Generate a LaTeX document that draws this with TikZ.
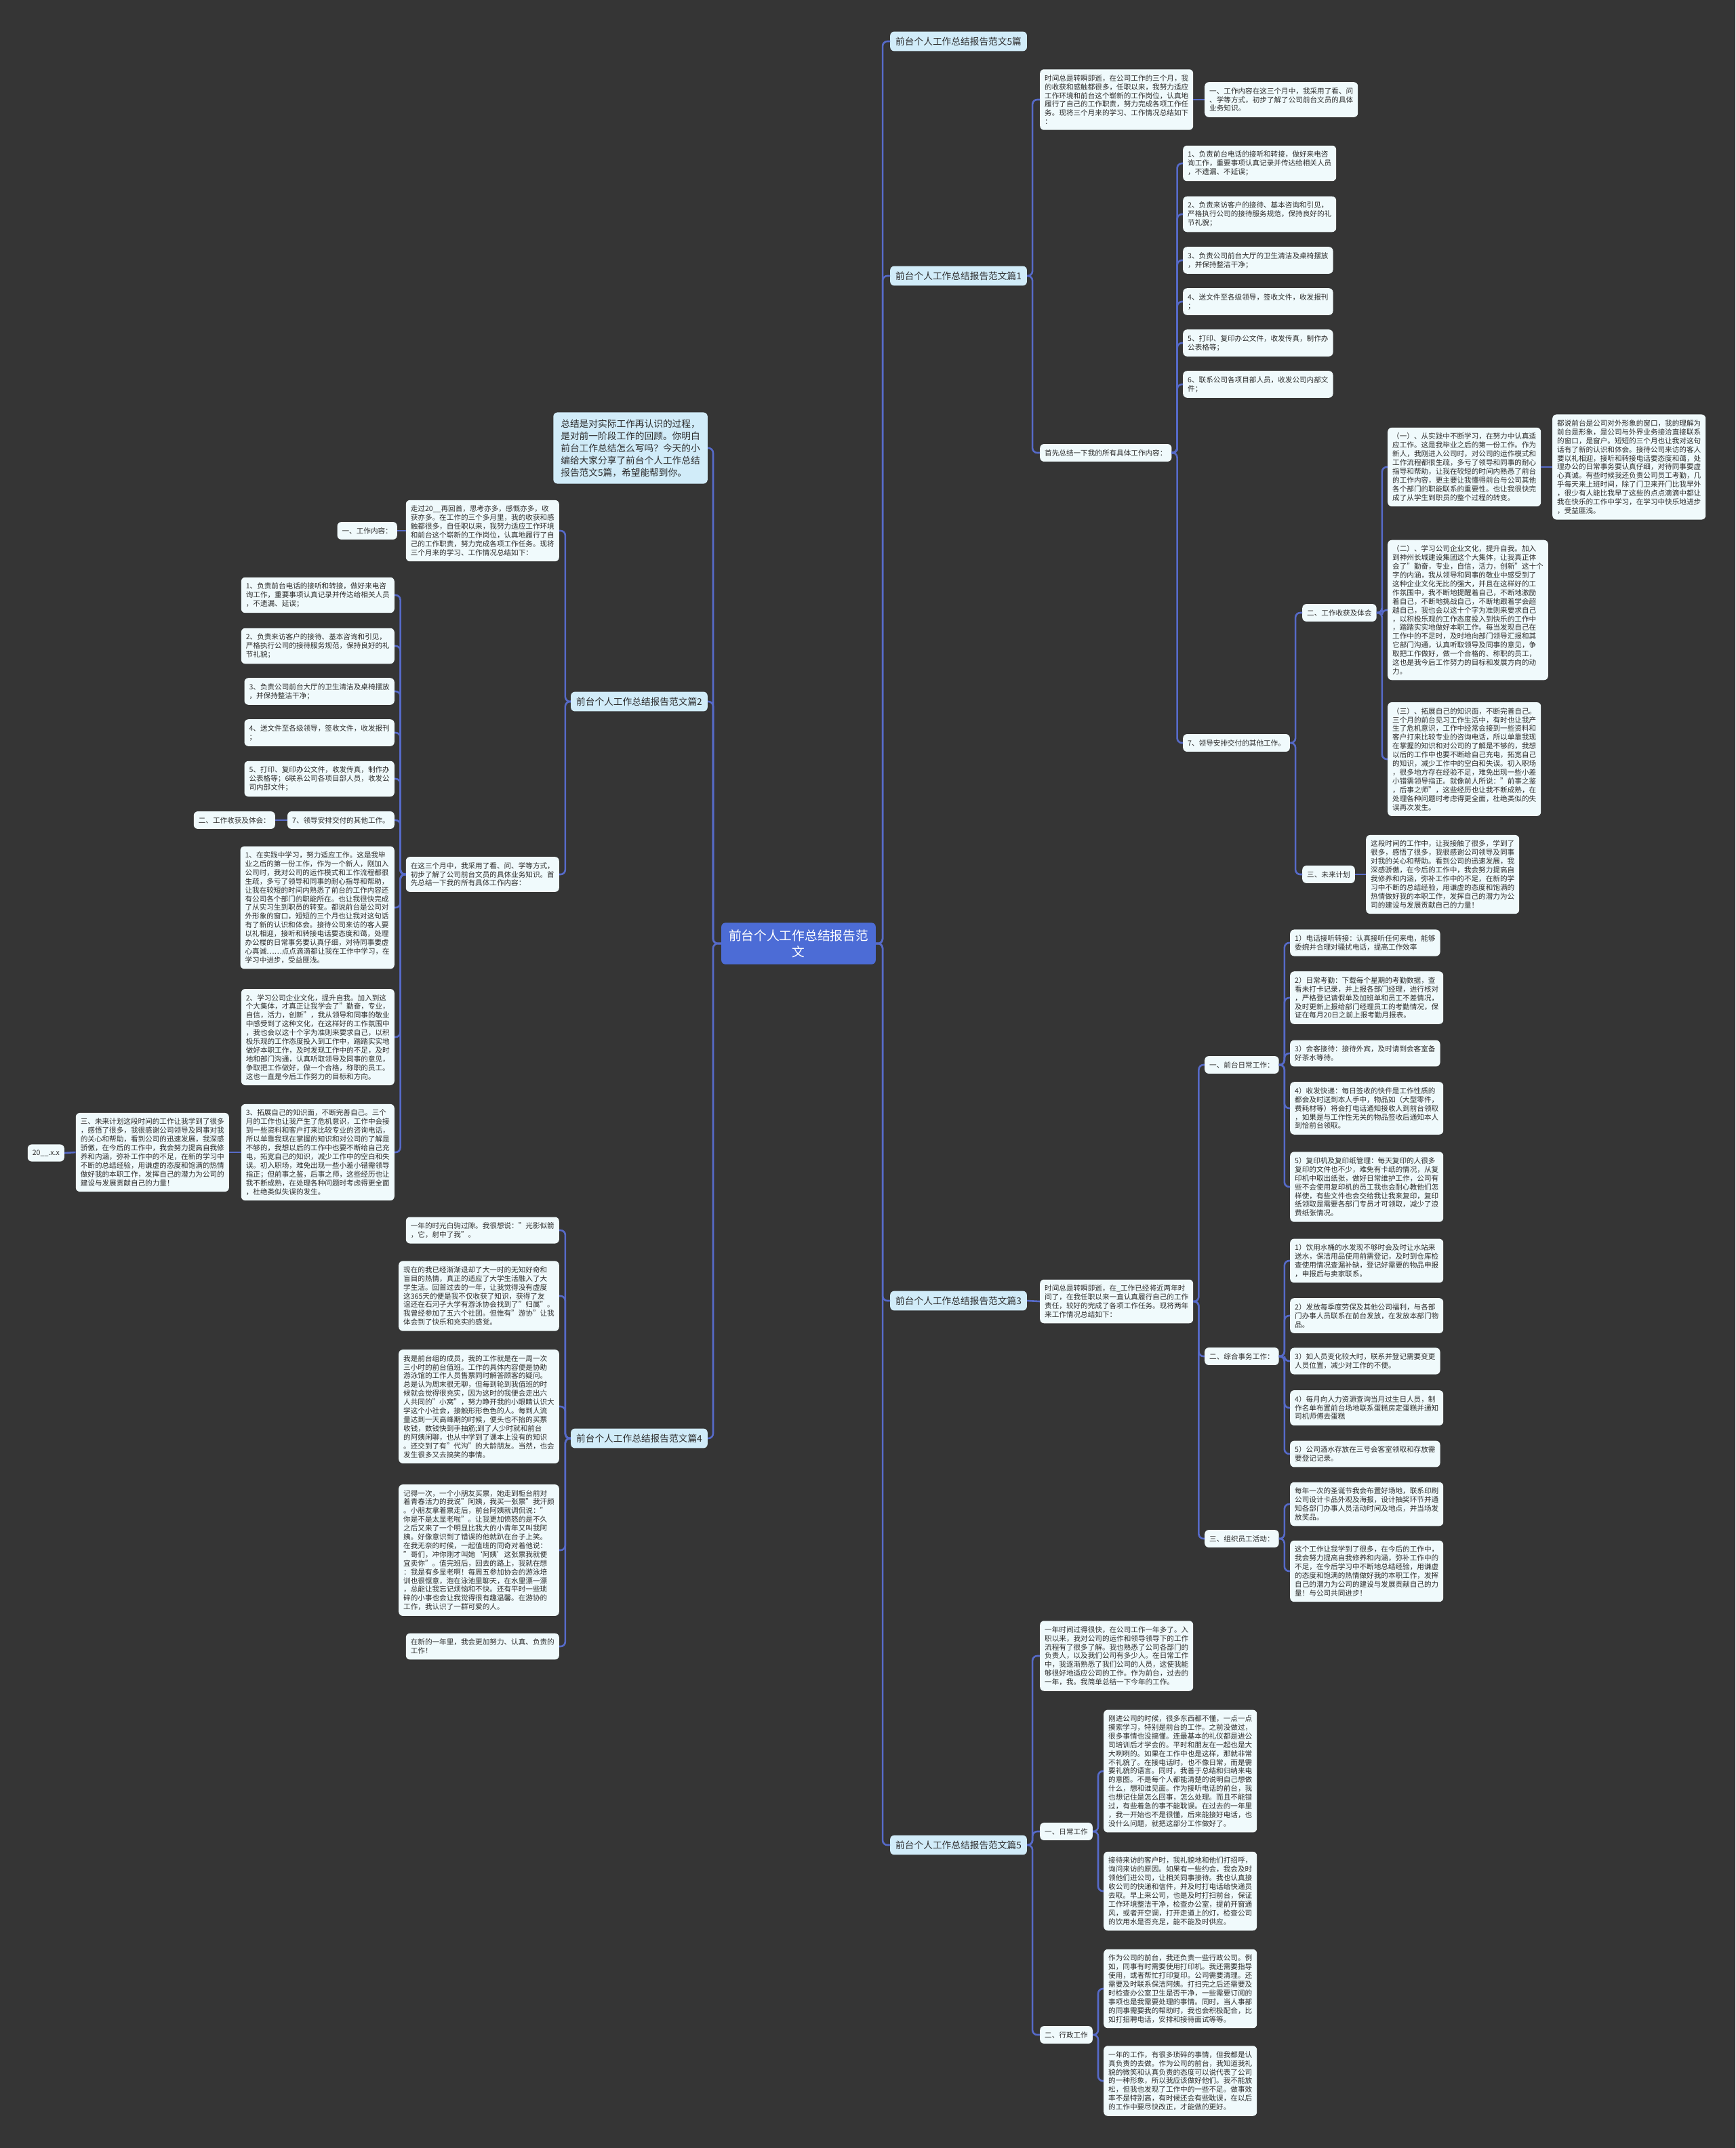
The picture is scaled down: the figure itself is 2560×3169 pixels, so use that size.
\documentclass[tikz,border=0pt]{standalone}
\usepackage{fontspec}
\setmainfont{Noto Sans CJK SC}
\definecolor{bg}{RGB}{53,53,53}
\definecolor{boxfill}{RGB}{240,250,252}
\definecolor{labfill}{RGB}{209,236,249}
\definecolor{cenfill}{RGB}{76,108,214}
\definecolor{linec}{RGB}{86,106,200}
\definecolor{txt}{RGB}{45,45,45}
\newcommand\brR[3]{\foreach \c in {#3} {\draw[conn] (#1.east) -- ++(#2,0) |- (\c.west);}}
\newcommand\brL[3]{\foreach \c in {#3} {\draw[conn] (#1.west) -- ++(-#2,0) |- (\c.east);}}
\tikzset{
 base/.style={rounded corners=6pt, fill=boxfill, text=txt, align=left, inner xsep=7pt, inner ysep=8pt, font=\fontsize{10.6}{12.9}\selectfont},
 boxR/.style={base, anchor=west},
 boxL/.style={base, anchor=east},
 lab/.style={rounded corners=6pt, fill=labfill, text=txt, inner xsep=8pt, inner ysep=8pt, font=\fontsize{13.7}{18}\selectfont},
 labR/.style={lab, anchor=west},
 labL/.style={lab, anchor=east},
 cen/.style={rounded corners=6pt, fill=cenfill, text=white, align=center, inner xsep=11pt, inner ysep=10pt, font=\fontsize{18.7}{24}\selectfont},
 conn/.style={draw=linec, line width=2.6pt, rounded corners=7pt},
}
\begin{document}
\begin{tikzpicture}[x=1pt,y=-1pt]
\useasboundingbox (0,0) rectangle (2560,3169);
\fill[bg] (0,0) rectangle (2560,3169);

% center
\node[cen] (c) at (1178,1392) {前台个人工作总结报告范\\文};

% ---------- right side ----------
\node[labR] (p5) at (1313,61) {前台个人工作总结报告范文5篇};
\node[labR] (p1) at (1313,407) {前台个人工作总结报告范文篇1};
\node[labR] (p3) at (1313,1919) {前台个人工作总结报告范文篇3};
\node[labR] (p5b) at (1313,2722) {前台个人工作总结报告范文篇5};

% 篇1
\node[boxR] (a1) at (1534,147) {时间总是转瞬即逝，在公司工作的三个月，我\\的收获和感触都很多，任职以来，我努力适应\\工作环境和前台这个崭新的工作岗位，认真地\\履行了自己的工作职责，努力完成各项工作任\\务。现将三个月来的学习、工作情况总结如下\\：};
\node[boxR] (a2) at (1777,147) {一、工作内容在这三个月中，我采用了看、问\\、学等方式，初步了解了公司前台文员的具体\\业务知识。};
\node[boxR] (s1) at (1534,668) {首先总结一下我的所有具体工作内容：};
\node[boxR] (r1) at (1745,241) {1、负责前台电话的接听和转接，做好来电咨\\询工作，重要事项认真记录并传达给相关人员\\，不遗漏、不延误；};
\node[boxR] (r2) at (1745,316) {2、负责来访客户的接待、基本咨询和引见，\\严格执行公司的接待服务规范，保持良好的礼\\节礼貌；};
\node[boxR] (r3) at (1745,384) {3、负责公司前台大厅的卫生清洁及桌椅摆放\\，并保持整洁干净；};
\node[boxR] (r4) at (1745,445) {4、送文件至各级领导，签收文件，收发报刊\\；};
\node[boxR] (r5) at (1745,506) {5、打印、复印办公文件，收发传真，制作办\\公表格等；};
\node[boxR] (r6) at (1745,567) {6、联系公司各项目部人员，收发公司内部文\\件；};
\node[boxR] (r7) at (1745,1096) {7、领导安排交付的其他工作。};
\node[boxR] (g2) at (1921,904) {二、工作收获及体会};
\node[boxR] (g3) at (1921,1290) {三、未来计划};
\node[boxR] (k1) at (2047,689) {（一）、从实践中不断学习，在努力中认真适\\应工作。这是我毕业之后的第一份工作。作为\\新人，我刚进入公司时，对公司的运作模式和\\工作流程都很生疏，多亏了领导和同事的耐心\\指导和帮助，让我在较短的时间内熟悉了前台\\的工作内容，更主要让我懂得前台与公司其他\\各个部门的职能联系的重要性。也让我很快完\\成了从学生到职员的整个过程的转变。};
\node[boxR] (k1b) at (2290,689) {都说前台是公司对外形象的窗口，我的理解为\\前台是形象，是公司与外界业务接洽直接联系\\的窗口，是窗户。短短的三个月也让我对这句\\话有了新的认识和体会。接待公司来访的客人\\要以礼相迎，接听和转接电话要态度和蔼，处\\理办公的日常事务要认真仔细，对待同事要虚\\心真诚。有些时候我还负责公司员工考勤，几\\乎每天来上班时间，除了门卫来开门比我早外\\，很少有人能比我早了这些的点点滴滴中都让\\我在快乐的工作中学习，在学习中快乐地进步\\，受益匪浅。};
\node[boxR] (k2) at (2047,900) {（二）、学习公司企业文化，提升自我。加入\\到神州长城建设集团这个大集体，让我真正体\\会了"勤奋，专业，自信，活力，创新"这十个\\字的内涵，我从领导和同事的敬业中感受到了\\这种企业文化无比的强大，并且在这样好的工\\作氛围中，我不断地提醒着自己，不断地激励\\着自己，不断地挑战自己，不断地跟着学会超\\越自己，我也会以这十个字为准则来要求自己\\，以积极乐观的工作态度投入到快乐的工作中\\，踏踏实实地做好本职工作。每当发现自己在\\工作中的不足时，及时地向部门领导汇报和其\\它部门沟通，认真听取领导及同事的意见，争\\取把工作做好，做一个合格的、称职的员工，\\这也是我今后工作努力的目标和发展方向的动\\力。};
\node[boxR] (k3) at (2047,1120) {（三）、拓展自己的知识面，不断完善自己。\\三个月的前台见习工作生活中，有时也让我产\\生了危机意识，工作中经常会接到一些资料和\\客户打来比较专业的咨询电话，所以单靠我现\\在掌握的知识和对公司的了解是不够的，我想\\以后的工作中也要不断给自己充电，拓宽自己\\的知识，减少工作中的空白和失误。初入职场\\，很多地方存在经验不足，难免出现一些小差\\小错需领导指正。就像前人所说："前事之鉴\\，后事之师"，这些经历也让我不断成熟，在\\处理各种问题时考虑得更全面，杜绝类似的失\\误再次发生。};
\node[boxR] (k4) at (2015,1290) {这段时间的工作中，让我接触了很多，学到了\\很多，感悟了很多，我很感谢公司领导及同事\\对我的关心和帮助。看到公司的迅速发展，我\\深感骄傲，在今后的工作中，我会努力提高自\\我修养和内涵，弥补工作中的不足，在新的学\\习中不断的总结经验，用谦虚的态度和饱满的\\热情做好我的本职工作，发挥自己的潜力为公\\司的建设与发展贡献自己的力量！};

% 篇3
\node[boxR] (t0) at (1534,1920) {时间总是转瞬即逝，在\_工作已经将近两年时\\间了，在我任职以来一直认真履行自己的工作\\责任，较好的完成了各项工作任务。现将两年\\来工作情况总结如下：};
\node[boxR] (t1) at (1777,1571) {一、前台日常工作：};
\node[boxR] (t2) at (1777,2001) {二、综合事务工作：};
\node[boxR] (t3) at (1777,2270) {三、组织员工活动：};
\node[boxR] (u1) at (1903,1391) {1）电话接听转接：认真接听任何来电，能够\\委婉并合理对骚扰电话，提高工作效率};
\node[boxR] (u2) at (1903,1472) {2）日常考勤：下载每个星期的考勤数据，查\\看未打卡记录，并上报各部门经理，进行核对\\，严格登记请假单及加班单和员工不差情况，\\及时更新上报给部门经理员工的考勤情况，保\\证在每月20日之前上报考勤月报表。};
\node[boxR] (u3) at (1903,1554) {3）会客接待：接待外宾，及时请到会客室备\\好茶水等待。};
\node[boxR] (u4) at (1903,1635) {4）收发快递：每日签收的快件是工作性质的\\都会及时送到本人手中，物品如（大型零件，\\费耗材等）将会打电话通知接收人到前台领取\\，如果是与工作性无关的物品签收后通知本人\\到恰前台领取。};
\node[boxR] (u5) at (1903,1751) {5）复印机及复印纸管理：每天复印的人很多\\复印的文件也不少，难免有卡纸的情况，从复\\印机中取出纸张，做好日常维护工作，公司有\\些不会使用复印机的员工我也会耐心教他们怎\\样使，有些文件也会交给我让我来复印，复印\\纸领取是需要各部门专员才可领取，减少了浪\\费纸张情况。};
\node[boxR] (v1) at (1903,1860) {1）饮用水桶的水发现不够时会及时让水站来\\送水，保洁用品使用前需登记，及时到仓库检\\查使用情况查漏补缺，登记好需要的物品申报\\，申报后与卖家联系。};
\node[boxR] (v2) at (1903,1941) {2）发放每季度劳保及其他公司福利，与各部\\门办事人员联系在前台发放，在发放本部门物\\品。};
\node[boxR] (v3) at (1903,2008) {3）如人员变化较大时，联系并登记需要变更\\人员位置，减少对工作的不便。};
\node[boxR] (v4) at (1903,2077) {4）每月向人力资源查询当月过生日人员，制\\作名单布置前台场地联系蛋糕房定蛋糕并通知\\司机师傅去蛋糕};
\node[boxR] (v5) at (1903,2145) {5）公司酒水存放在三号会客室领取和存放需\\要登记记录。};
\node[boxR] (w1) at (1903,2219) {每年一次的圣诞节我会布置好场地，联系印刷\\公司设计卡品外观及海报，设计抽奖环节并通\\知各部门办事人员活动时间及地点，并当场发\\放奖品。};
\node[boxR] (w2) at (1903,2318) {这个工作让我学到了很多，在今后的工作中，\\我会努力提高自我修养和内涵，弥补工作中的\\不足，在今后学习中不断地总结经验，用谦虚\\的态度和饱满的热情做好我的本职工作，发挥\\自己的潜力为公司的建设与发展贡献自己的力\\量！与公司共同进步！};

% 篇5
\node[boxR] (f0) at (1534,2443) {一年时间过得很快，在公司工作一年多了。入\\职以来，我对公司的运作和领导领导下的工作\\流程有了很多了解。我也熟悉了公司各部门的\\负责人，以及我们公司有多少人。在日常工作\\中，我逐渐熟悉了我们公司的人员，这使我能\\够很好地适应公司的工作。作为前台，过去的\\一年，我。我简单总结一下今年的工作。};
\node[boxR] (f1) at (1534,2702) {一、日常工作};
\node[boxR] (f2) at (1534,3002) {二、行政工作};
\node[boxR] (f11) at (1628,2613) {刚进公司的时候，很多东西都不懂，一点一点\\摸索学习，特别是前台的工作。之前没做过，\\很多事情也没搞懂。连最基本的礼仪都是进公\\司培训后才学会的。平时和朋友在一起也是大\\大咧咧的。如果在工作中也是这样，那就非常\\不礼貌了。在接电话时，也不像日常，而是需\\要礼貌的语言。同时，我善于总结和归纳来电\\的意图。不是每个人都能清楚的说明自己想做\\什么，想和谁见面。作为接听电话的前台，我\\也想记住是怎么回事，怎么处理。而且不能错\\过，有些着急的事不能耽误。在过去的一年里\\，我一开始也不是很懂，后来能接好电话，也\\没什么问题，就把这部分工作做好了。};
\node[boxR] (f12) at (1628,2790) {接待来访的客户时，我礼貌地和他们打招呼，\\询问来访的原因。如果有一些约会，我会及时\\领他们进公司，让相关同事接待。我也认真接\\收公司的快递和信件，并及时打电话给快递员\\去取。早上来公司，也是及时打扫前台，保证\\工作环境整洁干净，检查办公室，提前开窗通\\风，或者开空调，打开走道上的灯，检查公司\\的饮用水是否充足，能不能及时供应。};
\node[boxR] (f21) at (1628,2934) {作为公司的前台，我还负责一些行政公司。例\\如，同事有时需要使用打印机。我还需要指导\\使用，或者帮忙打印复印。公司需要清理。还\\需要及时联系保洁阿姨。打扫完之后还需要及\\时检查办公室卫生是否干净，一些需要订阅的\\事项也是我需要处理的事情。同时，当人事部\\的同事需要我的帮助时，我也会积极配合，比\\如打招聘电话，安排和接待面试等等。};
\node[boxR] (f22) at (1628,3070) {一年的工作，有很多琐碎的事情，但我都是认\\真负责的去做。作为公司的前台，我知道我礼\\貌的微笑和认真负责的态度可以说代表了公司\\的一种形象，所以我应该做好他们。我不能放\\松，但我也发现了工作中的一些不足。做事效\\率不是特别高，有时候还会有些耽误，在以后\\的工作中要尽快改正，才能做的更好。};

% ---------- left side ----------
\node[labL, align=left, inner xsep=11pt, inner ysep=10pt] (tl) at (1044,661) {总结是对实际工作再认识的过程，\\是对前一阶段工作的回顾。你明白\\前台工作总结怎么写吗？今天的小\\编给大家分享了前台个人工作总结\\报告范文5篇，希望能帮到你。};
\node[labL] (p2) at (1044,1035) {前台个人工作总结报告范文篇2};
\node[labL] (p4) at (1044,2122) {前台个人工作总结报告范文篇4};

% 篇2
\node[boxL] (l1) at (825,783) {走过20\_\_再回首，思考亦多，感慨亦多，收\\获亦多。在工作的三个多月里，我的收获和感\\触都很多，自任职以来，我努力适应工作环境\\和前台这个崭新的工作岗位，认真地履行了自\\己的工作职责，努力完成各项工作任务。现将\\三个月来的学习、工作情况总结如下：};
\node[boxL] (l1a) at (586,783) {一、工作内容：};
\node[boxL] (l2) at (825,1290) {在这三个月中，我采用了看、问、学等方式，\\初步了解了公司前台文员的具体业务知识。首\\先总结一下我的所有具体工作内容：};
\node[boxL] (m1) at (582,878) {1、负责前台电话的接听和转接，做好来电咨\\询工作，重要事项认真记录并传达给相关人员\\，不遗漏、延误；};
\node[boxL] (m2) at (582,953) {2、负责来访客户的接待、基本咨询和引见，\\严格执行公司的接待服务规范，保持良好的礼\\节礼貌；};
\node[boxL] (m3) at (582,1020) {3、负责公司前台大厅的卫生清洁及桌椅摆放\\，并保持整洁干净；};
\node[boxL] (m4) at (582,1081) {4、送文件至各级领导，签收文件，收发报刊\\；};
\node[boxL] (m5) at (582,1149) {5、打印、复印办公文件，收发传真，制作办\\公表格等；6联系公司各项目部人员，收发公\\司内部文件；};
\node[boxL] (m7) at (582,1210) {7、领导安排交付的其他工作。};
\node[boxL] (m7a) at (406,1210) {二、工作收获及体会：};
\node[boxL] (n1) at (582,1339) {1、在实践中学习，努力适应工作。这是我毕\\业之后的第一份工作，作为一个新人，刚加入\\公司时，我对公司的运作模式和工作流程都很\\生疏，多亏了领导和同事的耐心指导和帮助，\\让我在较短的时间内熟悉了前台的工作内容还\\有公司各个部门的职能所在。也让我很快完成\\了从实习生到职员的转变。都说前台是公司对\\外形象的窗口，短短的三个月也让我对这句话\\有了新的认识和体会。接待公司来访的客人要\\以礼相迎，接听和转接电话要态度和蔼，处理\\办公楼的日常事务要认真仔细，对待同事要虚\\心真诚……点点滴滴都让我在工作中学习，在\\学习中进步，受益匪浅。};
\node[boxL] (n2) at (582,1530) {2、学习公司企业文化，提升自我。加入到这\\个大集体，才真正让我学会了"勤奋，专业，\\自信，活力，创新"，我从领导和同事的敬业\\中感受到了这种文化，在这样好的工作氛围中\\，我也会以这十个字为准则来要求自己，以积\\极乐观的工作态度投入到工作中，踏踏实实地\\做好本职工作，及时发现工作中的不足，及时\\地和部门沟通，认真听取领导及同事的意见，\\争取把工作做好，做一个合格，称职的员工。\\这也一直是今后工作努力的目标和方向。};
\node[boxL] (n3) at (582,1700) {3、拓展自己的知识面，不断完善自己。三个\\月的工作也让我产生了危机意识，工作中会接\\到一些资料和客户打来比较专业的咨询电话，\\所以单靠我现在掌握的知识和对公司的了解是\\不够的，我想以后的工作中也要不断给自己充\\电，拓宽自己的知识，减少工作中的空白和失\\误。初入职场，难免出现一些小差小错需领导\\指正；但前事之鉴，后事之师，这些经历也让\\我不断成熟，在处理各种问题时考虑得更全面\\，杜绝类似失误的发生。};
\node[boxL] (n3a) at (338,1700) {三、未来计划这段时间的工作让我学到了很多\\，感悟了很多，我很感谢公司领导及同事对我\\的关心和帮助，看到公司的迅速发展，我深感\\骄傲，在今后的工作中，我会努力提高自我修\\养和内涵，弥补工作中的不足，在新的学习中\\不断的总结经验，用谦虚的态度和饱满的热情\\做好我的本职工作，发挥自己的潜力为公司的\\建设与发展贡献自己的力量！};
\node[boxL] (n3b) at (95,1701) {20\_\_.x.x};

% 篇4
\node[boxL] (b1) at (825,1815) {一年的时光白驹过隙。我很想说："光影似箭\\，它，射中了我"。};
\node[boxL] (b2) at (825,1912) {现在的我已经渐渐退却了大一时的无知好奇和\\盲目的热情，真正的适应了大学生活融入了大\\学生活。回首过去的一年，让我觉得没有虚度\\这365天的便是我不仅收获了知识，获得了友\\谊还在石河子大学有游泳协会找到了"归属"。\\我曾经参加了五六个社团。但惟有"游协"让我\\体会到了快乐和充实的感觉。};
\node[boxL] (b3) at (825,2075) {我是前台组的成员，我的工作就是在一周一次\\三小时的前台值班。工作的具体内容便是协助\\游泳馆的工作人员售票同时解答顾客的疑问。\\总是认为周末很无聊，但每到轮到我值班的时\\候就会觉得很充实，因为这时的我便会走出六\\人共同的"小窝"，努力睁开我的小眼睛认识大\\学这个小社会，接触形形色色的人。每到人流\\量达到一天高峰期的时候，便头也不抬的买票\\收钱，数钱快到手抽筋;到了人少时就和前台\\的阿姨闲聊，也从中学到了课本上没有的知识\\。还交到了有"代沟"的大龄朋友。当然，也会\\发生很多又去搞笑的事情。};
\node[boxL] (b4) at (825,2287) {记得一次，一个小朋友买票，她走到柜台前对\\着青春活力的我说"阿姨，我买一张票"我汗颜\\。小朋友拿着票走后，前台阿姨就调侃说："\\你是不是太显老啦"。让我更加愤怒的是不久\\之后又来了一个明显比我大的小青年又叫我阿\\姨。好像意识到了错误的他就趴在台子上笑。\\在我无奈的时候，一起值班的同奇对着他说：\\"哥们，冲你刚才叫她‘阿姨’这张票我就便\\宜卖你"。值完班后，回去的路上，我就在想\\：我是有多显老啊！每周五参加协会的游泳培\\训也很惬意，泡在泳池里聊天，在水里漂一漂\\，总能让我忘记烦恼和不快。还有平时一些琐\\碎的小事也会让我觉得很有趣温馨。在游协的\\工作，我认识了一群可爱的人。};
\node[boxL] (b5) at (825,2429) {在新的一年里，我会更加努力、认真、负责的\\工作！};

% ---------- connectors ----------
\brR{c}{10}{p5,p1,p3,p5b}
\brL{c}{12}{tl,p2,p4}
\brR{p1}{8}{a1,s1}
\draw[conn] (a1.east) -- (a2.west);
\brR{s1}{8}{r1,r2,r3,r4,r5,r6,r7}
\brR{r7}{8}{g2,g3}
\brR{g2}{8}{k1,k2,k3}
\draw[conn] (k1.east) -- (k1b.west);
\draw[conn] (g3.east) -- (k4.west);
\draw[conn] (p3.east) -- (t0.west);
\brR{t0}{8}{t1,t2,t3}
\brR{t1}{8}{u1,u2,u3,u4,u5}
\brR{t2}{8}{v1,v2,v3,v4,v5}
\brR{t3}{8}{w1,w2}
\brR{p5b}{8}{f0,f1,f2}
\brR{f1}{8}{f11,f12}
\brR{f2}{8}{f21,f22}
\brL{p2}{8}{l1,l2}
\draw[conn] (l1.west) -- (l1a.east);
\brL{l2}{8}{m1,m2,m3,m4,m5,m7,n1,n2,n3}
\draw[conn] (m7.west) -- (m7a.east);
\draw[conn] (n3.west) -- (n3a.east);
\draw[conn] (n3a.west) -- (n3b.east);
\brL{p4}{8}{b1,b2,b3,b4,b5}
\end{tikzpicture}
\end{document}
